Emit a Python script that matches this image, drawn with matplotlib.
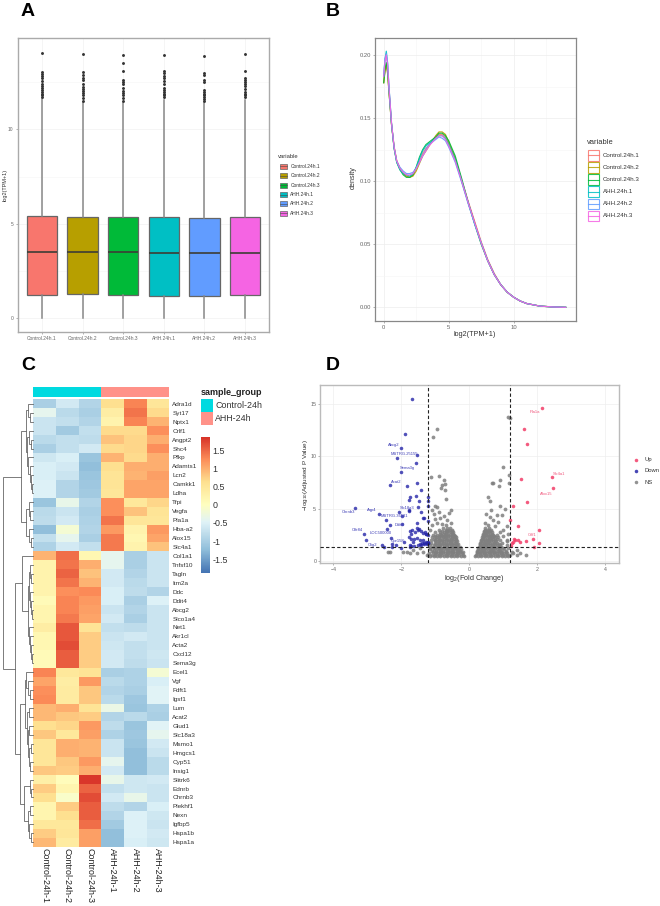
#!/usr/bin/env python3
# -*- coding: utf-8 -*-

"""Four panel RNA-seq figure: boxplot, density, heatmap, volcano."""

import matplotlib
matplotlib.use('Agg')
import matplotlib.pyplot as plt
from matplotlib.colors import LinearSegmentedColormap
from matplotlib.patches import Rectangle
import numpy as np

plt.rcParams['font.family'] = ['Liberation Sans', 'DejaVu Sans']
plt.rcParams['mathtext.default'] = 'regular'

# Data: panel A.
samples = ['Control.24h.1', 'Control.24h.2', 'Control.24h.3',
           'AHH.24h.1', 'AHH.24h.2', 'AHH.24h.3']
hue = ['#F8766D', '#B79F00', '#00BA38', '#00BFC4', '#619CFF', '#F564E3']
box_q1 = [1.25, 1.27, 1.25, 1.19, 1.19, 1.20]
box_med = [3.49, 3.53, 3.50, 3.44, 3.44, 3.44]
box_q3 = [5.40, 5.36, 5.36, 5.34, 5.31, 5.34]
box_whi = [11.6, 11.45, 11.4, 11.55, 11.4, 11.55]
box_fliers = [
    [14.07, 13.05, 12.95, 12.85, 12.7, 12.55, 12.4, 12.3, 12.2, 12.1, 12.0, 11.9, 11.8, 11.7],
    [14.0, 13.05, 12.9, 12.75, 12.6, 12.4, 12.25, 12.15, 12.05, 11.95, 11.8, 11.65, 11.5],
    [13.97, 13.53, 13.1, 12.6, 12.5, 12.4, 12.17, 12.05, 11.95, 11.8, 11.65, 11.5],
    [13.95, 13.1, 13.0, 12.85, 12.7, 12.55, 12.4, 12.2, 12.1, 12.0, 11.9, 11.8, 11.7],
    [13.88, 13.0, 12.9, 12.6, 12.5, 12.1, 12.0, 11.9, 11.8, 11.7, 11.6, 11.5],
    [14.0, 13.12, 12.7, 12.6, 12.5, 12.4, 12.3, 12.15, 12.0, 11.9, 11.8, 11.7],
]

# Data: panel B.
dens_x = [0, 0.1, 0.2, 0.3, 0.4, 0.6, 0.8, 1, 1.25, 1.5, 1.75, 2, 2.25, 2.5, 2.75, 3,
          3.25, 3.5, 3.75, 4, 4.25, 4.5, 4.75, 5, 5.5, 6, 6.5, 7, 7.5, 8, 8.5, 9,
          9.5, 10, 10.5, 11, 11.5, 12, 13, 14]
dens_c1 = [.178, .188, .193, .186, .172, .145, .127, .116, .110, .106, .104, .103, .105, .110, .116, .122,
           .126, .129, .132, .135, .137, .137, .135, .130, .118, .101, .084, .068, .052, .038, .027, .018,
           .012, .008, .005, .003, .002, .001, .0003, 0]
dens_c2 = [.178, .187, .192, .185, .171, .145, .127, .116, .110, .106, .104, .103, .104, .108, .114, .120,
           .124, .128, .132, .136, .139, .139, .137, .131, .118, .100, .083, .067, .051, .037, .026, .018,
           .012, .008, .005, .003, .002, .001, .0003, 0]
dens_c3 = [.178, .189, .194, .187, .172, .145, .126, .115, .109, .105, .103, .103, .105, .111, .119, .125,
           .129, .131, .133, .135, .138, .138, .136, .132, .120, .102, .083, .066, .050, .037, .026, .018,
           .012, .008, .005, .003, .002, .001, .0003, 0]
dens_a1 = [.183, .197, .203, .194, .176, .146, .126, .115, .109, .106, .105, .104, .106, .111, .118, .124,
           .128, .130, .132, .134, .136, .136, .134, .129, .117, .100, .083, .066, .051, .037, .026, .018,
           .012, .008, .005, .003, .002, .001, .0003, 0]
dens_a2 = [.184, .197, .201, .193, .175, .146, .127, .116, .111, .108, .106, .106, .107, .110, .115, .120,
           .125, .129, .131, .133, .135, .134, .132, .127, .115, .099, .082, .066, .051, .037, .026, .018,
           .012, .008, .005, .003, .002, .001, .0003, 0]
dens_a3 = [.183, .195, .200, .192, .175, .146, .127, .116, .110, .107, .105, .105, .106, .110, .115, .120,
           .124, .128, .131, .134, .136, .136, .133, .128, .116, .100, .083, .067, .051, .037, .026, .018,
           .012, .008, .005, .003, .002, .001, .0003, 0]
dens_all = [dens_c1, dens_c2, dens_c3, dens_a1, dens_a2, dens_a3]

# Data: panel C.
genes = ['Adra1d', 'Syt17', 'Nptx1', 'Crlf1', 'Angpt2', 'Shc4', 'Pfkp', 'Adamts1', 'Lcn2', 'Camkk1',
         'Ldha', 'Tfpi', 'Vegfa', 'Pla1a', 'Hba-a2', 'Alox15', 'Slc4a1', 'Col1a1', 'Tnfsf10', 'Tagln',
         'Itm2a', 'Ddc', 'Ddit4', 'Abcg2', 'Slco1a4', 'Net1', 'Akr1cl', 'Acta2', 'Cxcl12', 'Sema3g',
         'Ecel1', 'Vgf', 'Fdft1', 'Igsf1', 'Lum', 'Acat2', 'Glud1', 'Slc18a3', 'Msmo1', 'Hmgcs1',
         'Cyp51', 'Insig1', 'Slitrk6', 'Ednrb', 'Chrnb3', 'Plekhf1', 'Nexn', 'Igfbp5', 'Hspa1b', 'Hspa1a']
heat_cols = ['Control-24h-1', 'Control-24h-2', 'Control-24h-3', 'AHH-24h-1', 'AHH-24h-2', 'AHH-24h-3']
heat = [
    [-1.0, -0.6, -0.9, 0.6, 1.3, 0.5],
    [-0.4, -0.85, -1.0, 0.35, 1.4, 0.65],
    [-0.7, -0.75, -0.9, 0.25, 1.3, 0.95],
    [-0.7, -1.05, -0.75, 0.65, 0.65, 1.2],
    [-0.85, -0.75, -0.8, 0.85, 0.7, 1.0],
    [-1.0, -0.75, -0.6, 0.65, 0.7, 1.2],
    [-0.65, -0.55, -1.15, 0.95, 0.65, 1.0],
    [-0.55, -0.6, -1.2, 0.6, 1.0, 1.0],
    [-0.55, -0.7, -1.15, 0.55, 0.95, 1.1],
    [-0.5, -0.9, -1.1, 0.55, 1.05, 1.05],
    [-0.5, -0.9, -1.05, 0.5, 1.05, 1.05],
    [-1.15, -0.35, -0.9, 1.2, 0.45, 0.7],
    [-0.85, -0.7, -1.0, 1.2, 0.85, 0.55],
    [-0.8, -0.6, -0.95, 1.4, 0.5, 0.5],
    [-1.2, -0.15, -0.9, 1.15, 0.25, 1.15],
    [-0.75, -0.4, -1.0, 1.35, 0.15, 1.05],
    [-0.95, -0.6, -0.75, 1.35, 0.25, 0.85],
    [0.95, 1.45, 0.15, -0.4, -1.0, -0.7],
    [0.25, 1.4, 1.0, -0.4, -1.0, -0.7],
    [0.25, 1.5, 0.85, -0.6, -0.9, -0.7],
    [0.25, 1.4, 0.95, -0.6, -0.85, -0.7],
    [0.25, 1.2, 1.25, -0.55, -0.8, -0.9],
    [0.1, 1.3, 1.15, -0.55, -1.0, -0.5],
    [0.2, 1.3, 1.1, -0.7, -0.9, -0.7],
    [0.2, 1.35, 1.05, -0.6, -1.0, -0.7],
    [0.35, 1.6, 0.55, -0.75, -0.8, -0.7],
    [0.15, 1.6, 0.75, -0.7, -0.6, -0.7],
    [0.15, 1.65, 0.75, -0.65, -0.75, -0.7],
    [0.1, 1.55, 0.75, -0.6, -0.75, -0.65],
    [0.1, 1.55, 0.75, -0.6, -0.8, -0.7],
    [1.3, 0.45, 0.55, -1.0, -0.95, -0.15],
    [1.05, 0.35, 1.15, -0.85, -0.95, -0.55],
    [1.2, 0.4, 0.8, -0.9, -1.0, -0.45],
    [1.25, 0.4, 0.8, -0.85, -1.1, -0.45],
    [0.9, 1.0, 0.55, -0.3, -1.15, -0.95],
    [0.9, 0.8, 0.75, -0.9, -0.85, -1.0],
    [0.6, 0.7, 1.15, -0.8, -1.15, -0.45],
    [0.8, 0.45, 1.1, -0.95, -1.1, -0.4],
    [0.5, 1.0, 0.95, -0.7, -1.15, -0.6],
    [0.5, 1.0, 0.95, -0.7, -1.2, -0.7],
    [0.5, 0.8, 1.15, -0.4, -1.2, -0.85],
    [0.8, 0.75, 1.0, -0.6, -1.2, -0.85],
    [0.3, 0.05, 1.8, -0.35, -0.65, -0.6],
    [0.75, 0.2, 1.5, -0.75, -0.65, -0.7],
    [0.6, -0.1, 1.65, -0.6, -0.35, -0.7],
    [0.2, 0.75, 1.55, -0.8, -0.9, -0.55],
    [0.2, 0.6, 1.55, -0.9, -0.5, -0.65],
    [0.45, 0.45, 1.45, -1.05, -0.5, -0.7],
    [0.75, 0.5, 1.1, -1.2, -0.5, -0.6],
    [0.9, 0.4, 1.1, -1.2, -0.55, -0.65],
]
cbar_ticks = [1.5, 1, 0.5, 0, -0.5, -1, -1.5]
cbar_labels = ['1.5', '1', '0.5', '0', '-0.5', '-1', '-1.5']

# Row tree: [merge height, upper child, lower child], leaves are row numbers.
r0_10 = [7.5, [5.0, 0, [3.0, 1, 2]],
         [6.0, [4.0, 3, [2.5, 4, 5]], [5.0, 6, [3.5, 7, [2.5, 8, [1.5, 9, 10]]]]]]
r11_16 = [7.0, [4.5, 11, [3.0, 12, 13]], [4.0, 14, [2.5, 15, 16]]]
r18_24 = [4.5, [3.0, 18, [2.0, 19, 20]], [3.2, 21, [2.2, 22, [1.5, 23, 24]]]]
r25_29 = [4.0, 25, [3.0, 26, [2.0, 27, [1.0, 28, 29]]]]
r30_41 = [8.3, [7.0, 30, [5.0, 31, [3.0, 32, 33]]],
          [6.0, [4.5, 34, 35], [5.0, [4.0, 36, 37], [4.0, [2.5, 38, 39], [3.0, 40, 41]]]]]
r42_49 = [9.3, [3.5, 42, [2.5, 43, 44]], [5.5, [3.5, 45, 46], [4.5, 47, [2.5, 48, 49]]]]
row_tree = [30.7, [12.3, r0_10, r11_16],
            [18.3, [11.7, 17, [5.5, r18_24, r25_29]], [13.3, r30_41, r42_49]]]

# Data: panel D.
down_x = [-1.68, -1.9, -2.02, -2.12, -1.53, -1.57, -2.02, -2.33, -1.82, -1.55, -1.43, -1.57, -1.74, -1.76,
          -1.47, -1.2, -1.2, -1.2, -3.36, -2.65, -2.46, -2.06, -1.76, -1.76, -1.5, -1.41, -1.99, -1.35,
          -1.32, -1.22, -1.55, -1.99, -2.33, -2.41, -3.11, -3.05, -2.3, -2.58, -2.51, -2.28, -2.16, -2.28,
          -1.92, -1.75, -1.7, -1.62, -1.52, -1.42, -1.32, -1.25, -1.2, -1.78, -1.72, -1.62, -1.55, -1.45,
          -1.35, -1.28, -1.22, -1.75, -1.68, -1.55, -1.48, -1.3, -1.7, -1.6, -1.5, -1.42, -1.35, -1.28,
          -1.24, -1.21, -1.33, -1.27, -1.22, -1.75, -1.65, -2.0, -1.45, -1.4]
down_y = [15.5, 12.13, 10.76, 9.84, 10.13, 9.33, 8.5, 7.23, 7.13, 7.48, 6.78, 6.18, 6.08, 5.83,
          5.7, 6.15, 5.76, 5.3, 5.06, 4.52, 3.89, 4.71, 4.87, 4.75, 5.16, 4.68, 4.27, 4.08,
          4.1, 3.85, 3.66, 3.5, 3.44, 3.06, 2.61, 1.97, 2.23, 1.53, 1.37, 1.6, 1.55, 1.35,
          1.8, 1.3, 1.4, 1.45, 1.5, 1.55, 1.6, 1.7, 1.75, 2.3, 2.15, 2.1, 2.2, 2.05,
          2.0, 2.6, 2.5, 2.9, 3.0, 3.2, 3.1, 2.8, 2.6, 2.75, 2.95, 2.9, 2.7, 2.55,
          1.65, 1.7, 1.72, 1.78, 1.8, 1.55, 1.85, 1.25, 1.62, 1.68]
up_x = [2.13, 1.6, 1.7, 2.44, 1.53, 2.46, 1.69, 1.29, 1.21, 1.43, 2.04, 1.88, 1.3, 1.35, 1.42, 1.5,
        1.67, 2.05, 1.91, 1.25, 1.23, 1.28]
up_y = [14.59, 12.58, 11.15, 7.99, 7.87, 6.94, 5.6, 5.25, 3.92, 3.38, 2.93, 2.13, 2.07, 2.0, 1.97, 1.8,
        1.94, 1.72, 1.31, 1.68, 1.45, 1.85]
ns_levels = [0.5, 0.62, 0.75, 0.87, 1.0, 1.12, 1.25, 1.37, 1.5, 1.62, 1.75, 1.87, 2.0, 2.12, 2.25, 2.37,
             2.5, 2.62, 2.75, 2.87, 3.0, 3.15]
ns_left = [
    [-1.15, -1.05, -.95, -.85, -.75, -.65, -.55, -.45, -.35, -.25, -.17],
    [-1.2, -1.1, -1.0, -.9, -.8, -.7, -.6, -.5, -.4, -.3, -.2],
    [-1.18, -1.02, -.92, -.82, -.72, -.62, -.52, -.42, -.32, -.22],
    [-1.08, -.97, -.87, -.77, -.67, -.57, -.47, -.37, -.27, -.2],
    [-1.1, -.97, -.87, -.77, -.67, -.57, -.47, -.37, -.27],
    [-1.16, -1.04, -.92, -.82, -.72, -.62, -.52, -.42, -.32, -.25],
    [-1.15, -1.0, -.9, -.8, -.7, -.6, -.5, -.4, -.3],
    [-1.08, -.95, -.85, -.75, -.65, -.55, -.45, -.35, -.28],
    [-1.17, -1.05, -.95, -.85, -.75, -.65, -.55, -.45, -.35],
    [-1.0, -.9, -.8, -.7, -.6, -.5, -.4, -.33],
    [-1.12, -.98, -.88, -.78, -.68, -.58, -.48, -.38],
    [-1.02, -.93, -.83, -.73, -.63, -.53, -.43, -.36],
    [-1.14, -1.0, -.9, -.8, -.7, -.6, -.5, -.4],
    [-1.05, -.95, -.85, -.75, -.65, -.55, -.45, -.39],
    [-1.1, -.97, -.88, -.78, -.68, -.58, -.48, -.4],
    [-1.0, -.9, -.8, -.72, -.62, -.52, -.43],
    [-1.08, -.95, -.82, -.72, -.62, -.52, -.45],
    [-.87, -.78, -.68, -.58, -.48],
    [-1.02, -.85, -.75, -.65, -.55, -.47],
    [-.8, -.7, -.62, -.52],
    [-.9, -.7, -.6, -.52],
    [-.76, -.66, -.56],
]
ns_right = [
    [.17, .26, .35, .45, .55, .65, .75, .85, .95, 1.05, 1.15],
    [.2, .3, .4, .5, .6, .7, .8, .9, 1.0, 1.1, 1.2],
    [.22, .32, .42, .52, .62, .72, .82, .92, 1.02, 1.12],
    [.22, .28, .37, .47, .57, .67, .77, .87, .97, 1.07],
    [.24, .34, .44, .54, .64, .74, .84, .94, 1.08],
    [.26, .3, .4, .5, .6, .7, .8, .9, 1.02],
    [.27, .37, .47, .57, .67, .77, .87, 1.0, 1.15],
    [.28, .33, .43, .53, .63, .73, .83, .94],
    [.3, .4, .5, .6, .7, .8, .9, 1.1],
    [.31, .36, .46, .56, .66, .76, .86],
    [.32, .42, .52, .62, .72, .82, .95],
    [.34, .39, .49, .59, .69, .79],
    [.35, .45, .55, .65, .75, .9, 1.1],
    [.36, .41, .51, .61, .71, .8],
    [.37, .47, .57, .67, .77, .85],
    [.39, .44, .54, .64, .74],
    [.4, .5, .6, .7, .8],
    [.41, .46, .56, .66],
    [.42, .5, .58, .68, .9],
    [.44, .52, .62],
    [.45, .55, .65, 1.0],
    [.47, .57],
]
ns_extra_x = [-.94, -1.08, 1.13, 1.19, 1.0, -.9, -1.14, 1.17, .9, .86, .66, .71, 1.17, -.75, -.8, -.72, -.82, -.72,
              -.68, -1.0, -.95, -1.1, -1.05, -.9, -.85, -1.0, -.55, -.6, -.75, -.65, -.95, -.8, -1.1, -.55, -.7,
              -1.15, .55, .6, .9, 1.05, .65, .5, .8, .6, .95, .7, .45, .85, .55, 1.1, .75, 1.15, 1.0, 1.1,
              -2.38, -2.33, -1.94, -1.84, -1.74, -1.65, -1.55, -1.45, -1.35, -1.25, 1.29, 1.39, 1.5, 1.39, 1.68, 1.25]
ns_extra_y = [12.58, 11.82, 13.79, 13.7, 9.0, 8.12, 8.0, 8.2, 7.74, 7.17, 7.5, 7.5, 7.42, 7.7, 7.3, 7.4, 7.0, 6.8,
              5.9, 5.3, 5.2, 4.9, 4.5, 4.7, 4.1, 4.0, 4.9, 4.6, 4.3, 3.9, 3.6, 3.5, 3.4, 3.6, 3.4,
              3.0, 6.1, 5.7, 5.3, 5.0, 4.9, 4.5, 4.4, 4.2, 4.4, 3.9, 3.6, 3.7, 3.4, 3.3, 3.3, 2.6, 2.4, 1.9,
              .89, .83, .83, .89, .8, 1.05, .73, 1.2, .9, .55, .73, 1.05, .73, .56, .54, .9]
down_labels = ['Abcg2', 'MSTRG.25155', 'Sema3g', 'Acat2', 'Slc18a3', 'Aqp4', 'MSTRG.36581', 'Chrnb3',
               'Ddit4', 'Olfr84', 'LOC500000', 'Gpr158', 'Olig2']
down_lab_x = [-2.22, -1.92, -1.81, -2.14, -1.83, -2.86, -2.2, -3.55, -2.05, -3.3, -2.6, -2.11, -2.85]
down_lab_y = [11.1, 10.2, 8.9, 7.6, 5.1, 4.9, 4.3, 4.7, 3.4, 2.95, 2.65, 1.87, 1.55]
up_labels = ['Pla1a', 'Slc4a1', 'Alox15', 'Crlf1']
up_lab_x = [1.92, 2.65, 2.26, 1.84]
up_lab_y = [14.2, 8.35, 6.4, 2.5]


def axes_px(fig, left, top, right, bottom):
    """Axes from pixel edges of the 660x906 picture."""
    return fig.add_axes([left/660, 1-bottom/906, (right-left)/660, (bottom-top)/906])


def gg_frame(ax, color, width):
    for side in ax.spines.values():
        side.set_color(color)
        side.set_linewidth(width)
    ax.set_axisbelow(True)
    ax.tick_params(length=1.5, width=0.4, color='#777777')


def draw_tree(ax, node):
    """Draw a merge and give back its height and row position."""
    if not isinstance(node, list):
        return 0.0, node + 0.5
    h1, y1 = draw_tree(ax, node[1])
    h2, y2 = draw_tree(ax, node[2])
    ax.plot([h1, node[0], node[0], h2], [y1, y1, y2, y2], color='#666666', lw=0.6,
            solid_joinstyle='miter', clip_on=False)
    return node[0], (y1 + y2) / 2


fig = plt.figure(figsize=(6.6, 9.06), dpi=100)

# Overlay for panel letters and legend keys, in picture pixels.
over = fig.add_axes([0, 0, 1, 1], zorder=5)
over.set_xlim(0, 660)
over.set_ylim(906, 0)
over.axis('off')
for letter, lx, ly in [('A', 21, 11), ('B', 326, 11), ('C', 21, 366), ('D', 326, 366)]:
    over.text(lx, ly, letter, fontsize=14, fontweight='bold', va='center', ha='left', color='black')

# Panel A.
ax_a = axes_px(fig, 17.7, 38.3, 269.3, 331.7)
stats = []
for i in range(6):
    stats.append({'med': box_med[i], 'q1': box_q1[i], 'q3': box_q3[i], 'whislo': 0,
                  'whishi': box_whi[i], 'fliers': box_fliers[i]})
parts = ax_a.bxp(stats, positions=range(1, 7), widths=0.75, patch_artist=True, showcaps=False,
                 boxprops=dict(edgecolor='#666666', linewidth=0.9),
                 whiskerprops=dict(color='#888888', linewidth=1.1),
                 medianprops=dict(color='#3d3d35', linewidth=1.2),
                 flierprops=dict(marker='o', markersize=2.1, markerfacecolor='#333333',
                                 markeredgecolor='#333333', markeredgewidth=0))
for patch, col in zip(parts['boxes'], hue):
    patch.set_facecolor(col)
ax_a.set_xlim(0.4, 6.6)
ax_a.set_ylim(-0.72, 14.83)
ax_a.set_xticks(range(1, 7))
ax_a.set_xticklabels(samples)
ax_a.set_yticks([0, 5, 10])
ax_a.set_yticks([2.5, 7.5, 12.5], minor=True)
ax_a.grid(color='#f1f1f1', linewidth=0.5)
ax_a.grid(which='minor', axis='y', color='#f6f6f6', linewidth=0.4)
ax_a.tick_params(which='minor', length=0)
ax_a.tick_params(labelsize=3.5, labelcolor='#666666', pad=1.5)
gg_frame(ax_a, '#aaaaaa', 1.0)
over.text(5, 185, 'log2(TPM+1)', rotation=90, fontsize=4, va='center', ha='center', color='#333333')
over.text(278, 156, 'variable', fontsize=4.2, va='center', ha='left', color='#333333')
for i, name in enumerate(samples):
    yk = 166.3 + i * 9.4
    over.add_patch(Rectangle((279.5, yk - 2.6), 7, 5.2, facecolor=hue[i], edgecolor='#666666', lw=0.5))
    over.plot([279.5, 286.5], [yk, yk], color='#444444', lw=0.4)
    over.text(290.3, yk, name, fontsize=3.5, va='center', ha='left', color='#333333')

# Panel B.
ax_b = axes_px(fig, 375, 38.3, 575.7, 320.7)
for dens, col, name in zip(dens_all, hue, samples):
    ax_b.plot(dens_x, dens, color=col, lw=0.85, alpha=0.9)
ax_b.set_xlim(-0.67, 14.77)
ax_b.set_ylim(-0.0106, 0.2132)
ax_b.set_xticks([0, 5, 10])
ax_b.set_xticks([2.5, 7.5, 12.5], minor=True)
ax_b.set_yticks([0, 0.05, 0.10, 0.15, 0.20])
ax_b.set_yticks([0.025, 0.075, 0.125, 0.175], minor=True)
ax_b.set_yticklabels(['0.00', '0.05', '0.10', '0.15', '0.20'])
ax_b.grid(color='#ededed', linewidth=0.5)
ax_b.grid(which='minor', color='#f5f5f5', linewidth=0.4)
ax_b.tick_params(which='minor', length=0)
ax_b.tick_params(labelsize=4.2, labelcolor='#666666', pad=1.5)
gg_frame(ax_b, '#888888', 0.9)
over.text(475, 335, 'log2(TPM+1)', fontsize=5.2, va='center', ha='center', color='#333333')
over.text(353.5, 178, 'density', rotation=90, fontsize=5.2, va='center', ha='center', color='#333333')
over.text(587, 142, 'variable', fontsize=5.4, va='center', ha='left', color='#333333')
for i, name in enumerate(samples):
    yk = 155.3 + i * 12.1
    over.add_patch(Rectangle((588, yk - 5.2), 10.6, 10.4, facecolor='white', edgecolor=hue[i], lw=0.8, alpha=0.85))
    over.plot([588, 598.6], [yk, yk], color=hue[i], lw=0.8, alpha=0.85)
    over.text(602.7, yk, name, fontsize=4.4, va='center', ha='left', color='#333333')

# Panel C.
heat_cmap = LinearSegmentedColormap.from_list(
    'pheat', [(0.0, '#4575B4'), (0.17, '#91BFDB'), (0.37, '#E0F3F8'), (0.5, '#FFFFBF'),
              (0.667, '#FEE090'), (0.833, '#FC8D59'), (1.0, '#D73027')], N=100)
ax_c = axes_px(fig, 33.3, 399.3, 169.3, 846.7)
ax_c.pcolormesh(np.array(heat), cmap=heat_cmap, vmin=-1.87, vmax=1.87)
ax_c.set_ylim(50, 0)
ax_c.set_xticks(np.arange(6) + 0.5)
ax_c.set_xticklabels(heat_cols, rotation=270, fontsize=6.4, color='#222222', ha='center', va='top')
ax_c.yaxis.tick_right()
ax_c.set_yticks(np.arange(50) + 0.5)
ax_c.set_yticklabels(genes, fontsize=4.6, color='#333333')
ax_c.tick_params(length=0, pad=2.2)
ax_c.tick_params(axis='x', pad=0.6)
for side in ax_c.spines.values():
    side.set_visible(False)

ax_tree = axes_px(fig, 0, 399.3, 33.3, 846.7)
draw_tree(ax_tree, row_tree)
ax_tree.set_xlim(33.3, 0)
ax_tree.set_ylim(50, 0)
ax_tree.axis('off')

over.add_patch(Rectangle((33.3, 387.3), 68, 9.4, facecolor='#00DAE0', edgecolor='none'))
over.add_patch(Rectangle((101.3, 387.3), 68, 9.4, facecolor='#FF9289', edgecolor='none'))
over.text(201, 392.7, 'sample_group', fontsize=6.5, fontweight='bold', va='center', ha='left', color='#222222')
over.add_patch(Rectangle((201, 398.7), 12.3, 13.2, facecolor='#00DAE0', edgecolor='none'))
over.add_patch(Rectangle((201, 412), 12.3, 13.3, facecolor='#FF9289', edgecolor='none'))
over.text(215, 405.3, 'Control-24h', fontsize=6.4, va='center', ha='left', color='#333333')
over.text(215, 418.7, 'AHH-24h', fontsize=6.4, va='center', ha='left', color='#333333')

ax_cb = axes_px(fig, 200.7, 436.7, 209.3, 572.7)
ax_cb.imshow(np.linspace(1.87, -1.87, 100).reshape(-1, 1), cmap=heat_cmap, vmin=-1.87, vmax=1.87,
             aspect='auto', extent=[0, 1, -1.87, 1.87])
ax_cb.set_xticks([])
ax_cb.yaxis.tick_right()
ax_cb.set_yticks(cbar_ticks)
ax_cb.set_yticklabels(cbar_labels, fontsize=6.4, color='#333333')
ax_cb.tick_params(length=0, pad=2.4)
for side in ax_cb.spines.values():
    side.set_visible(False)

# Panel D.
ax_d = axes_px(fig, 320, 385.3, 619.3, 563.3)
ns_x = list(ns_extra_x)
ns_y = list(ns_extra_y)
for level, row_l, row_r in zip(ns_levels, ns_left, ns_right):
    ns_x += row_l + row_r
    ns_y += [level] * (len(row_l) + len(row_r))
ax_d.scatter(ns_x, ns_y, s=7.5, color='#7f7f7f', alpha=0.85, linewidths=0, zorder=2)
ax_d.scatter(down_x, down_y, s=6.5, color='#2525a8', alpha=0.8, linewidths=0, zorder=3)
ax_d.scatter(up_x, up_y, s=6.5, color='#f23d68', alpha=0.85, linewidths=0, zorder=3)
for lab, lx, ly in zip(down_labels, down_lab_x, down_lab_y):
    ax_d.text(lx, ly, lab, fontsize=3, color='#3a3ab5', ha='center', va='center', zorder=4)
for lab, lx, ly in zip(up_labels, up_lab_x, up_lab_y):
    ax_d.text(lx, ly, lab, fontsize=3, color='#f0567c', ha='center', va='center', zorder=4)
for xv in [-1.2, 1.2]:
    ax_d.axvline(xv, color='#222222', lw=0.8, ls=(0, (3, 2)), zorder=4)
ax_d.axhline(1.3, color='#222222', lw=0.8, ls=(0, (3, 2)), zorder=4)
ax_d.set_xlim(-4.39, 4.41)
ax_d.set_ylim(-0.22, 16.8)
ax_d.set_xticks([-4, -2, 0, 2, 4])
ax_d.set_yticks([0, 5, 10, 15])
ax_d.grid(color='#eeeeee', linewidth=0.5)
ax_d.tick_params(labelsize=3.8, labelcolor='#666666', pad=1.2)
gg_frame(ax_d, '#bbbbbb', 1.0)
over.text(474, 578, r'log$_2$(Fold Change)', fontsize=5.2, va='center', ha='center', color='#333333')
over.text(306, 475, r'$-$log$_{10}$(Adjusted P Value)', rotation=90, fontsize=4.6, va='center', ha='center',
          color='#333333')
for name, col, yk in [('Up', '#f23d68', 459.7), ('Down', '#2525a8', 471), ('NS', '#7f7f7f', 482)]:
    over.scatter([635.7], [yk], s=6.5, color=col, alpha=0.85, linewidths=0)
    over.text(644.3, yk, name, fontsize=4.2, va='center', ha='left', color='#333333')

fig.savefig('out.png', dpi=100)
